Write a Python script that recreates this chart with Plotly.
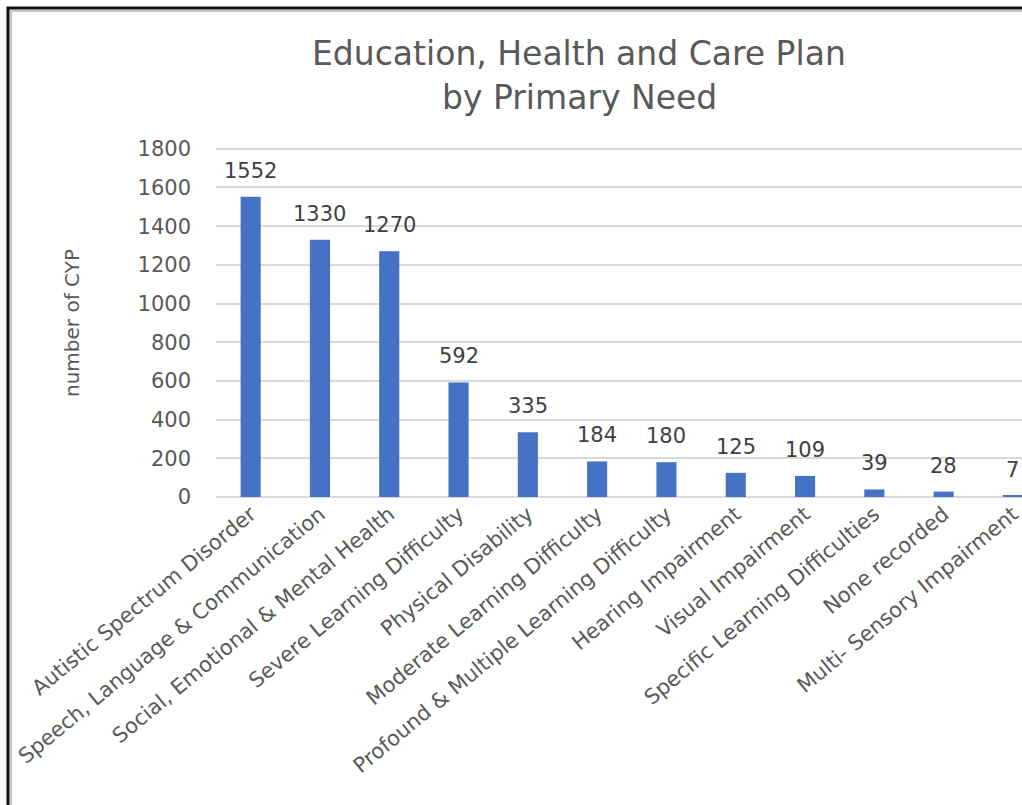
import plotly.graph_objects as go

# Primary need categories and number of children / young people with an EHCP
categories = [
    "Autistic Spectrum Disorder",
    "Speech, Language & Communication",
    "Social, Emotional & Mental Health",
    "Severe Learning Difficulty",
    "Physical Disability",
    "Moderate Learning Difficulty",
    "Profound & Multiple Learning Difficulty",
    "Hearing Impairment",
    "Visual Impairment",
    "Specific Learning Difficulties",
    "None recorded",
    "Multi- Sensory Impairment",
]
counts = [1552, 1330, 1270, 592, 335, 184, 180, 125, 109, 39, 28, 7]
y_ticks = [0, 200, 400, 600, 800, 1000, 1200, 1400, 1600, 1800]

W, H = 1022, 805
Y_TOP = 1830                       # a little headroom so the 1800 gridline is drawn
ZERO_PX = 497                      # pixel row of the baseline
PX_PER_UNIT = 348 / 1800
L, R = 216, 0
T = round(ZERO_PX - Y_TOP * PX_PER_UNIT)
B = H - ZERO_PX
plot_w = W - L - R
plot_h = H - T - B


def px_to_paper(xp, yp):
    return (xp - L) / plot_w, 1 - (yp - T) / plot_h


BAR = "#4472C4"
GRID = "#d9d9d9"
TXT = "#595959"
FONT = "DejaVu Sans"

fig = go.Figure(
    go.Bar(
        x=list(range(len(categories))),
        y=counts,
        marker=dict(color=BAR, line=dict(width=0)),
        width=0.29,
        hoverinfo="x+y",
    )
)

# value labels above each bar
for i, v in enumerate(counts):
    fig.add_annotation(
        x=i, y=v, text=str(v), showarrow=False,
        yanchor="bottom", yshift=12,
        font=dict(family=FONT, size=21, color="#404040"),
    )

# chart title (two lines)
tx, ty1 = px_to_paper(579, 53)
_, ty2 = px_to_paper(579, 98)
for line, ty in (("Education, Health and Care Plan", ty1), ("by Primary Need", ty2)):
    fig.add_annotation(xref="paper", yref="paper", x=tx, y=ty, text=line,
                       showarrow=False, xanchor="center", yanchor="middle",
                       font=dict(family=FONT, size=33, color=TXT))

# y-axis title
ax, ay = px_to_paper(72, 323)
fig.add_annotation(xref="paper", yref="paper", x=ax, y=ay, text="number of CYP",
                   showarrow=False, textangle=-90, xanchor="center", yanchor="middle",
                   font=dict(family=FONT, size=20, color=TXT))

# outer frame on the left and top edges, with a soft inner shadow
fx0, fy0 = px_to_paper(8, 8)
_, fyb = px_to_paper(8, H + 20)
fx1, _ = px_to_paper(W + 20, 8)
sx0, sy0 = px_to_paper(11, 11)
fig.add_shape(type="path", xref="paper", yref="paper",
              path=f"M {sx0} {fyb} L {sx0} {sy0} L {fx1} {sy0}",
              line=dict(color="#c8c8c8", width=2))
fig.add_shape(type="path", xref="paper", yref="paper",
              path=f"M {fx0} {fyb} L {fx0} {fy0} L {fx1} {fy0}",
              line=dict(color="#111111", width=3))

fig.update_layout(
    width=W, height=H,
    margin=dict(l=L, r=R, t=T, b=B, pad=0),
    paper_bgcolor="white", plot_bgcolor="white",
    showlegend=False,
    xaxis=dict(
        tickmode="array",
        tickvals=list(range(len(categories))),
        ticktext=categories,
        tickangle=-39.5,
        range=[-0.5, -0.5 + plot_w / 69.3],
        showgrid=False, zeroline=False, showline=False,
        ticks="", ticklabeloverflow="allow",
        tickfont=dict(family=FONT, size=21, color=TXT),
        fixedrange=True,
    ),
    yaxis=dict(
        range=[0, Y_TOP],
        tickmode="array", tickvals=y_ticks,
        showgrid=True, gridcolor=GRID, gridwidth=2,
        zeroline=True, zerolinecolor=GRID, zerolinewidth=2,
        showline=False, ticks="",
        ticklabelstandoff=24,
        tickfont=dict(family=FONT, size=21, color=TXT),
        fixedrange=True,
    ),
)

fig.write_html("out.html")
